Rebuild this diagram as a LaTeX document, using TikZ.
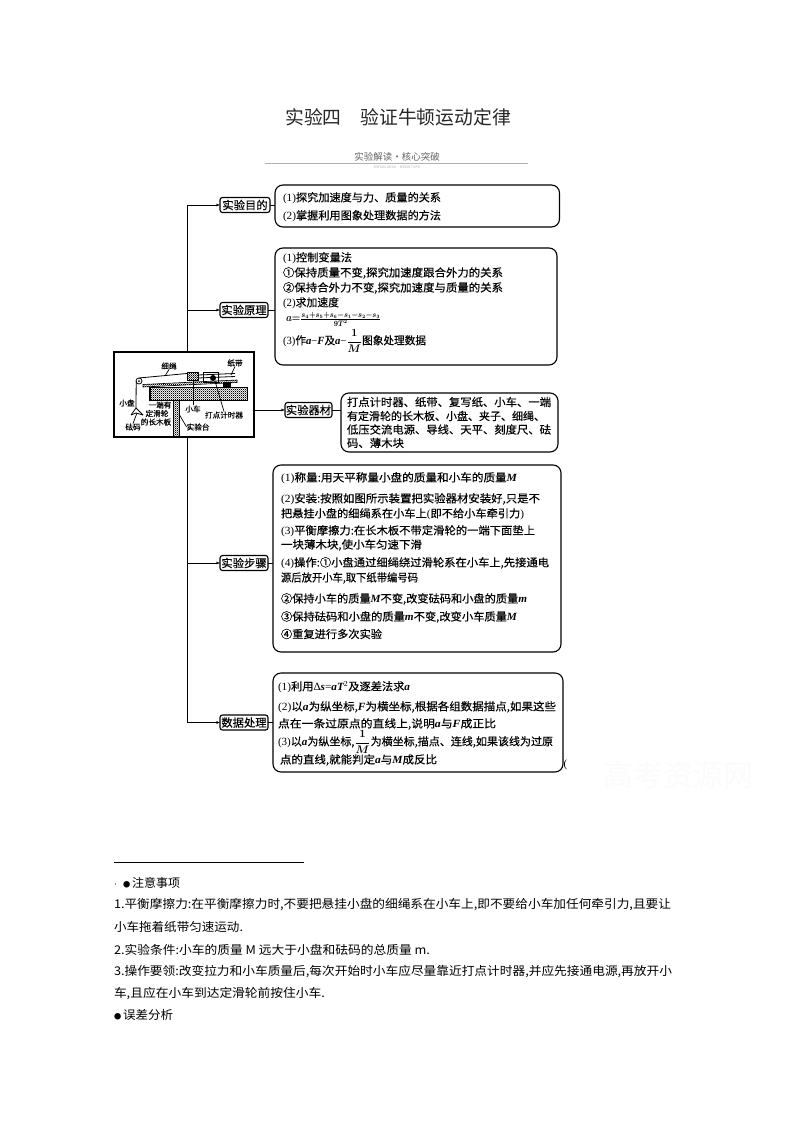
\documentclass[tikz,border=0pt]{standalone}
\usepackage{fontspec}
\usepackage{graphicx}
\usetikzlibrary{arrows.meta,patterns}
\setmainfont{Noto Sans CJK SC}
\newfontfamily\bodyf[FakeBold=0.3]{Noto Sans CJK SC}
\newfontfamily\latf{Liberation Serif}
\newcommand\lnt[1]{{\latf #1}}
\newcommand\ivt[1]{{\latf\bfseries\itshape #1}}
\newcommand\fitw[2]{\resizebox{#1pt}{\height}{#2}}
\newcommand\frM{\mbox{\boldmath$\displaystyle\frac{1}{M}$}}
\pgfdeclarepatternformonly{densedots}{\pgfpointorigin}{\pgfpoint{2.2pt}{2.2pt}}{\pgfpoint{2.2pt}{2.2pt}}{%
  \pgfpathrectangle{\pgfpointorigin}{\pgfpoint{1.1pt}{1.1pt}}%
  \pgfpathrectangle{\pgfpoint{1.1pt}{1.1pt}}{\pgfpoint{1.1pt}{1.1pt}}%
  \pgfusepath{fill}}
\tikzset{
  x=1pt,y=-1pt,
  line width=1pt,
  txt/.style={anchor=west,inner sep=0pt,outer sep=0pt,font=\fontsize{11}{13}\selectfont\bodyf},
  foot/.style={anchor=west,inner sep=0pt,outer sep=0pt,font=\fontsize{12}{14}\selectfont},
  figt/.style={inner sep=0pt,outer sep=0pt,font=\fontsize{7.6}{8}\selectfont\bodyf},
  rbox/.style={draw=black,line width=1.1pt,rounded corners=8pt,inner sep=0pt,outer sep=0pt},
  lab/.style={draw=black,line width=1.1pt,rounded corners=2.5pt,inner sep=0pt,outer sep=0pt,minimum height=15pt,font=\fontsize{11.3}{13}\selectfont\bodyf},
  arr/.style={-{Latex[length=3.5pt,width=3pt]}},
  leader/.style={line width=0.7pt},
  dense/.style={draw=black,line width=0.5pt,pattern=densedots},
}
\begin{document}
\begin{tikzpicture}
\useasboundingbox (0,0) rectangle (794,1123);
\fill[white] (0,0) rectangle (794,1123);

% header
\node[inner sep=0pt,font=\fontsize{18.8}{22}\selectfont,text=black!85] (title) at (398,117) {实验四\hspace{1em}验证牛顿运动定律};
\node[inner sep=0pt,font=\fontsize{9.5}{11}\selectfont,text=black!60] (sub) at (397,157) {实验解读·核心突破};
\coordinate (hrl) at (265,163.5);
\coordinate (hrr) at (528,163.5);
\draw[black!30,line width=0.6pt] (hrl) -- (hrr);
\node[inner sep=0pt,font=\fontsize{3.5}{4}\selectfont,text=black!30] (subp) at (397,167) {SHIYAN JIEDU·HEXIN TUPO};

% watermark
\node[inner sep=0pt,font=\fontsize{30}{32}\selectfont,text=black!1.5] (wm) at (678,775) {高考资源网};

% labels and boxes
\node[lab,minimum width=50pt] (lab1) at (245,205) {实验目的};
\node[lab,minimum width=48pt] (lab2) at (244,310) {实验原理};
\node[lab,minimum width=47pt] (lab3) at (308.5,410) {实验器材};
\node[lab,minimum width=48pt] (lab4) at (244,563) {实验步骤};
\node[lab,minimum width=48pt] (lab5) at (244,722.5) {数据处理};

\node[rbox,minimum width=284.5pt,minimum height=42pt] (box1) at (417.25,206) {};
\node[rbox,minimum width=282pt,minimum height=117pt] (box2) at (416,306.5) {};
\node[rbox,minimum width=217pt,minimum height=59pt] (box3) at (449.5,422.5) {};
\node[rbox,minimum width=288pt,minimum height=187pt] (box4) at (417,558.5) {};
\node[rbox,minimum width=290pt,minimum height=99pt] (box5) at (418,722.5) {};

% picture frame
\node[draw=black,line width=1.1pt,minimum width=140pt,minimum height=85pt,inner sep=0pt,outer sep=0pt] (pic) at (184,394.5) {};

% connectors
\coordinate (trunktop) at (187,205);
\coordinate (trunkbot) at (187,722.5);
\coordinate (picn) at (187,352);
\coordinate (pics) at (187,437);
\draw (picn) -- (trunktop);
\draw (pics) -- (trunkbot);
\draw[arr] (trunktop) -- (lab1.west);
\draw[arr] (trunktop |- lab2.west) -- (lab2.west);
\draw[arr] (trunktop |- lab4.west) -- (lab4.west);
\draw[arr] (trunkbot) -- (lab5.west);
\draw[arr] (pic.east |- lab3.west) -- (lab3.west);
\draw (lab1.east) -- (lab1.east -| box1.west);
\draw (lab2.east) -- (lab2.east -| box2.west);
\draw (lab3.east) -- (lab3.east -| box3.west);
\draw (lab4.east) -- (lab4.east -| box4.west);
\draw (lab5.east) -- (lab5.east -| box5.west);

% box 1
\node[txt] (a1) at (283,198) {\fitw{158}{\lnt{(1)}探究加速度与力、质量的关系}};
\node[txt] (a2) at (283,216) {\fitw{158}{\lnt{(2)}掌握利用图象处理数据的方法}};

% box 2
\node[txt] (b1) at (283,258) {\fitw{69}{\lnt{(1)}控制变量法}};
\node[txt] (b2) at (283,273) {\fitw{220}{①保持质量不变,探究加速度跟合外力的关系}};
\node[txt] (b3) at (283,288) {\fitw{220}{②保持合外力不变,探究加速度与质量的关系}};
\node[txt] (b4) at (283,303) {\fitw{56}{\lnt{(2)}求加速度}};
\node[txt,font=\fontsize{11}{13}\selectfont] (b5) at (286,319) {\fitw{95}{\mbox{\boldmath$a{=}\frac{s_4{+}s_5{+}s_6{-}s_1{-}s_2{-}s_3}{9T^2}$}}};
\node[txt] (b6) at (283,341) {\fitw{143}{\lnt{(3)}作\ivt{a}\lnt{−}\ivt{F}及\ivt{a}\lnt{−}\frM 图象处理数据}};

% box 3
\node[txt] (c1) at (347,402) {\fitw{204}{打点计时器、纸带、复写纸、小车、一端}};
\node[txt] (c2) at (347,416) {\fitw{198}{有定滑轮的长木板、小盘、夹子、细绳、}};
\node[txt] (c3) at (347,429.5) {\fitw{204}{低压交流电源、导线、天平、刻度尺、砝}};
\node[txt] (c4) at (347,443) {\fitw{57}{码、薄木块}};

% box 4
\node[txt] (d1) at (281,478) {\fitw{236}{\lnt{(1)}称量:用天平称量小盘的质量和小车的质量\ivt{M}}};
\node[txt] (d2) at (281,499) {\fitw{259}{\lnt{(2)}安装:按照如图所示装置把实验器材安装好,只是不}};
\node[txt] (d3) at (281,514) {\fitw{243}{把悬挂小盘的细绳系在小车上\lnt{(}即不给小车牵引力\lnt{)}}};
\node[txt] (d4) at (281,531) {\fitw{254}{\lnt{(3)}平衡摩擦力:在长木板不带定滑轮的一端下面垫上}};
\node[txt] (d5) at (281,545) {\fitw{141}{一块薄木块,使小车匀速下滑}};
\node[txt] (d6) at (281,563) {\fitw{268}{\lnt{(4)}操作:①小盘通过细绳绕过滑轮系在小车上,先接通电}};
\node[txt] (d7) at (281,578) {\fitw{137}{源后放开小车,取下纸带编号码}};
\node[txt] (d8) at (281,599) {\fitw{246}{②保持小车的质量\ivt{M}不变,改变砝码和小盘的质量\ivt{m}}};
\node[txt] (d9) at (281,617) {\fitw{236}{③保持砝码和小盘的质量\ivt{m}不变,改变小车质量\ivt{M}}};
\node[txt] (d10) at (281,634) {\fitw{101}{④重复进行多次实验}};

% box 5
\node[txt] (e1) at (278,687) {\fitw{132}{\lnt{(1)}利用\lnt{Δ}\ivt{s}\lnt{=}\ivt{aT}\textsuperscript{\lnt{2}}及逐差法求\ivt{a}}};
\node[txt] (e2) at (278,707) {\fitw{278}{\lnt{(2)}以\ivt{a}为纵坐标,\ivt{F}为横坐标,根据各组数据描点,如果这些}};
\node[txt] (e3) at (278,724) {\fitw{218}{点在一条过原点的直线上,说明\ivt{a}与\ivt{F}成正比}};
\node[txt] (e4) at (278,742) {\fitw{275}{\lnt{(3)}以\ivt{a}为纵坐标,\frM 为横坐标,描点、连线,如果该线为过原}};
\node[txt] (e5) at (280,760) {\fitw{157}{点的直线,就能判定\ivt{a}与\ivt{M}成反比}};
\node[txt,font=\fontsize{11}{13}\selectfont\latf] (par) at (563.5,765) {(};

% apparatus
\path[dense] (150,387) rectangle (247,400);
\path[dense] (173,400) rectangle (179,436);
\path[draw=black,line width=0.6pt,pattern=densedots] (143,384.5) -- (237,380) -- (237,382.5) -- (143,387) -- cycle;
\fill[black] (223,382) rectangle (231,387);
\draw[line width=0.8pt] (139,381) circle (3);
\fill (139,381) circle (1);
\draw[line width=0.8pt] (139,378) -- (187,373.5);
\draw[line width=0.8pt] (136.2,381) -- (136,408);
\draw[line width=0.8pt] (131,415) -- (136,408) -- (143,415);
\draw[line width=0.8pt] (131,415) -- (136,413) -- (143,415);
\path[dense] (187,372) rectangle (198,380);
\draw[line width=0.9pt] (203,372) rectangle (218,382);
\fill (213,378) circle (3);
\draw[line width=0.8pt] (198,375) -- (235,373.5);
\draw[line width=0.8pt] (198,378) -- (235,376.5);
\draw[leader] (149,387) -- (149,404);
\node[figt] (f1) at (169,366) {细绳};
\node[figt] (f2) at (235,363) {纸带};
\node[figt] (f3) at (127,403) {小盘};
\node[figt,fill=white] (f4) at (160,405) {一端有};
\node[figt,fill=white] (f5) at (157,413.5) {定滑轮};
\node[figt,fill=white] (f6) at (156,422) {的长木板};
\node[figt] (f7) at (133,427) {砝码};
\node[figt] (f8) at (193,409) {小车};
\node[figt] (f9) at (224,415) {打点计时器};
\node[figt] (f10) at (198,427) {实验台};
\draw[leader] (f1.south) -- (165,376);
\draw[leader] (f2.south) -- (231,375);
\draw[leader] (f8.north) -- (193,380);
\draw[leader] (f9.north) -- (215,381);
\draw[leader] (f10.west) -- (179,414);
\draw[leader] (f7.north) -- (137,413);

% footnote
\coordinate (fnl) at (114,862);
\coordinate (fnr) at (304,862);
\draw[line width=0.8pt] (fnl) -- (fnr);
\fill[black!45] (114.5,883) rectangle (116,884.5);
\node[foot] (g0) at (123,883) {\scalebox{0.6}{●}\hspace{2pt}\fitw{48}{注意事项}};
\node[foot] (g1) at (114,905) {\fitw{557}{1.平衡摩擦力:在平衡摩擦力时,不要把悬挂小盘的细绳系在小车上,即不要给小车加任何牵引力,且要让}};
\node[foot] (g2) at (114,927) {\fitw{129}{小车拖着纸带匀速运动.}};
\node[foot] (g3) at (114,950) {\fitw{316}{2.实验条件:小车的质量 M 远大于小盘和砝码的总质量 m.}};
\node[foot] (g4) at (114,972) {\fitw{558}{3.操作要领:改变拉力和小车质量后,每次开始时小车应尽量靠近打点计时器,并应先接通电源,再放开小}};
\node[foot] (g5) at (114,994) {\fitw{211}{车,且应在小车到达定滑轮前按住小车.}};
\node[foot] (g6) at (114,1015) {\scalebox{0.6}{●}\hspace{2pt}\fitw{50}{误差分析}};
\end{tikzpicture}
\end{document}
